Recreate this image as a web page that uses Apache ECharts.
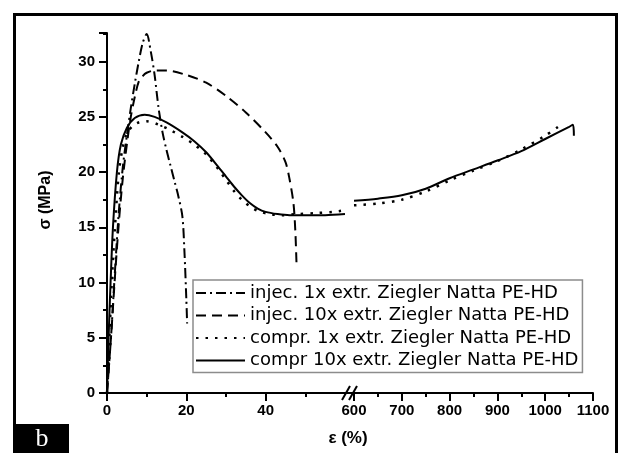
<!DOCTYPE html>
<html>
<head>
<meta charset="utf-8">
<script src="https://cdn.jsdelivr.net/npm/echarts@6/dist/echarts.min.js"></script>
<style>
html, body { margin: 0; padding: 0; background: #fff; }
#chart { width: 620px; height: 453px; }
</style>
</head>
<body>
<div id="chart"></div>
<script>
// series names
var names = [
	'injec. 1x extr. Ziegler Natta PE-HD',
	'injec. 10x extr. Ziegler Natta PE-HD',
	'compr. 1x extr. Ziegler Natta PE-HD',
	'compr 10x extr. Ziegler Natta PE-HD'
];

// tick labels
var xTicksLeft = [0, 20, 40];
var xTicksRight = [600, 700, 800, 900, 1000, 1100];
var yTicks = [0, 5, 10, 15, 20, 25, 30];

// injec. 1x (strain %, stress MPa)
var inj1Strain = [0, 1, 2, 3, 4, 5, 6, 7, 8, 9, 10, 11, 12, 13, 14, 15, 16, 17, 18, 19, 19.5, 20, 20.2];
var inj1Stress = [0, 5, 11, 16.5, 20.5, 23.3, 25.8, 28, 30, 31.7, 32.5, 31, 28.8, 25.8, 23.6, 22, 20.6, 19.2, 17.8, 16, 13, 8.5, 6.3];

// injec. 10x
var inj10Strain = [0, 1, 2, 3, 4, 5, 6, 7, 8, 9, 10, 12, 15, 20, 25, 30, 35, 40, 43, 45, 46, 47, 47.5, 47.8];
var inj10Stress = [0, 5, 10.5, 15.5, 19.5, 22.5, 25, 26.8, 28.2, 28.7, 29, 29.2, 29.2, 28.8, 28.1, 26.9, 25.4, 23.6, 22.3, 20.9, 19.4, 17.2, 14.5, 11.4];

// compr. 1x, part before and after the axis break
var cmp1Strain = [0, 0.6, 1.2, 2, 3, 4, 5, 6.5, 8, 10, 13, 16, 19, 22, 25, 28, 30, 32, 34, 36, 38, 41, 44, 48, 53, 57, 59];
var cmp1Stress = [0, 5, 10, 15, 20, 22.3, 23.5, 24.2, 24.5, 24.6, 24.3, 23.8, 23.2, 22.5, 21.6, 20.3, 19.3, 18.3, 17.5, 16.9, 16.5, 16.2, 16.1, 16.2, 16.3, 16.4, 16.5];
var cmp1StrainHi = [600, 650, 700, 750, 800, 850, 900, 950, 1000, 1030];
var cmp1StressHi = [17.0, 17.15, 17.5, 18.25, 19.25, 20.15, 21.0, 22.05, 23.3, 24.2];

// compr 10x
var cmp10Strain = [0, 0.4, 0.9, 1.5, 2.5, 3.5, 5, 7, 9.5, 12, 15, 19, 22, 25, 28, 30, 32, 34, 36, 38, 40, 43, 46, 50, 55, 60];
var cmp10Stress = [0, 5, 10, 15, 20, 22.5, 24, 24.9, 25.2, 25.0, 24.5, 23.6, 22.8, 21.8, 20.5, 19.6, 18.7, 17.9, 17.2, 16.7, 16.4, 16.2, 16.1, 16.1, 16.1, 16.2];
var cmp10StrainHi = [600, 650, 700, 750, 800, 850, 900, 950, 1000, 1050, 1058, 1060];
var cmp10StressHi = [17.4, 17.6, 17.9, 18.5, 19.45, 20.25, 21.05, 21.9, 23.0, 24.1, 24.3, 23.3];

function pairs(xs, ys) {
	return xs.map(function (x, i) { return [x, ys[i]]; });
}

var black = '#000';
var tickFont = { color: black, fontSize: 15, fontWeight: 'bold', fontFamily: 'Liberation Sans, Arial, sans-serif' };
var styles = [
	{ color: black, width: 2, type: [10, 4, 2, 4] },
	{ color: black, width: 2, type: [10, 6] },
	{ color: black, width: 2.5, type: [2.5, 7] },
	{ color: black, width: 2, type: 'solid' }
];

function line(name, data, idx, style) {
	return {
		name: name,
		type: 'line',
		data: data,
		xAxisIndex: idx,
		yAxisIndex: idx,
		symbol: 'none',
		smooth: 0.3,
		color: black,
		lineStyle: style,
		animation: false
	};
}

function plain(v) { return String(v); }

function xAxisBase(idx, min, max, ticks) {
	return {
		type: 'value',
		gridIndex: idx,
		min: min,
		max: max,
		interval: ticks[1] - ticks[0],
		axisLine: { show: true, onZero: false, lineStyle: { color: black, width: 2 } },
		axisTick: { show: true, length: 8, customValues: ticks, lineStyle: { color: black, width: 2 } },
		minorTick: { show: true, splitNumber: 2, length: 4, lineStyle: { color: black, width: 2 } },
		axisLabel: Object.assign({ margin: 10, customValues: ticks, formatter: plain }, tickFont),
		splitLine: { show: false }
	};
}

var chart = echarts.init(document.getElementById('chart'));
chart.setOption({
	animation: false,
	backgroundColor: '#fff',
	grid: [
		{ left: 107, top: 33, width: 238, height: 360 },
		{ left: 354, top: 33, width: 239, height: 360 }
	],
	xAxis: [
		xAxisBase(0, 0, 60, xTicksLeft),
		xAxisBase(1, 600, 1100, xTicksRight)
	],
	yAxis: [
		{
			type: 'value',
			gridIndex: 0,
			min: 0,
			max: 32.6,
			interval: 5,
			axisLine: { show: true, onZero: false, lineStyle: { color: black, width: 2 } },
			axisTick: { show: true, length: 8, lineStyle: { color: black, width: 2 } },
			minorTick: { show: true, splitNumber: 2, length: 4, lineStyle: { color: black, width: 2 } },
			axisLabel: Object.assign({ margin: 12, customValues: yTicks, formatter: plain }, tickFont),
			splitLine: { show: false }
		},
		{ type: 'value', gridIndex: 1, min: 0, max: 32.6, show: false, splitLine: { show: false } }
	],
	legend: {
		data: names,
		orient: 'vertical',
		left: 193,
		top: 280,
		padding: [4, 4, 3, 2],
		itemGap: 4.5,
		itemWidth: 49,
		itemHeight: 14,
		borderColor: '#8c8c8c',
		borderWidth: 1.5,
		backgroundColor: '#fff',
		selectedMode: false,
		itemStyle: { opacity: 0 },
		textStyle: { color: black, fontSize: 18, fontFamily: 'DejaVu Sans, sans-serif', lineHeight: 18 }
	},
	series: [
		line(names[0], pairs(inj1Strain, inj1Stress), 0, styles[0]),
		line(names[1], pairs(inj10Strain, inj10Stress), 0, styles[1]),
		line(names[2], pairs(cmp1Strain, cmp1Stress), 0, styles[2]),
		line(names[3], pairs(cmp10Strain, cmp10Stress), 0, styles[3]),
		line(names[2], pairs(cmp1StrainHi, cmp1StressHi), 1, styles[2]),
		line(names[3], pairs(cmp10StrainHi, cmp10StressHi), 1, styles[3])
	],
	graphic: [
		// outer frame
		{ type: 'rect', shape: { x: 14.5, y: 14.5, width: 602, height: 460 }, style: { fill: 'none', stroke: black, lineWidth: 3 }, silent: true },
		// panel tag
		{ type: 'rect', shape: { x: 13, y: 424, width: 56, height: 30 }, style: { fill: black }, silent: true },
		{ type: 'text', x: 42, y: 439, style: { text: 'b', fill: '#fff', font: '26px "Liberation Serif", "DejaVu Serif", serif', align: 'center', verticalAlign: 'middle' }, silent: true },
		// axis break
		{ type: 'line', shape: { x1: 344, y1: 393, x2: 355, y2: 393 }, style: { stroke: black, lineWidth: 2 }, silent: true },
		{ type: 'line', shape: { x1: 342, y1: 400, x2: 350, y2: 386 }, style: { stroke: black, lineWidth: 2 }, silent: true },
		{ type: 'line', shape: { x1: 349, y1: 400, x2: 357, y2: 386 }, style: { stroke: black, lineWidth: 2 }, silent: true },
		// axis titles
		{ type: 'text', x: 348, y: 438, style: { text: 'ε (%)', fill: black, font: 'bold 17px "Liberation Sans", Arial, sans-serif', align: 'center', verticalAlign: 'middle' }, silent: true },
		{ type: 'text', x: 46, y: 200, rotation: Math.PI / 2, style: { text: 'σ (MPa)', fill: black, font: 'bold 16px "Liberation Sans", Arial, sans-serif', align: 'center', verticalAlign: 'middle' }, silent: true }
	]
});
</script>
</body>
</html>
